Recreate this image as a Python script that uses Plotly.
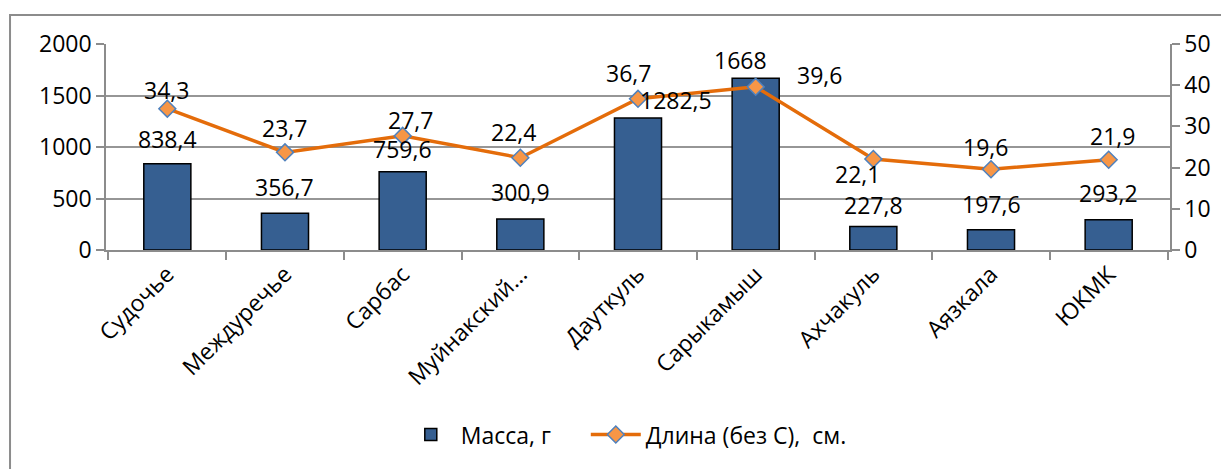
import plotly.graph_objects as go

categories = ["Судочье", "Междуречье", "Сарбас", "Муйнакский...", "Дауткуль",
              "Сарыкамыш", "Ахчакуль", "Аязкала", "ЮКМК"]
mass_values = [838.4, 356.7, 759.6, 300.9, 1282.5, 1668, 227.8, 197.6, 293.2]
length_values = [34.3, 23.7, 27.7, 22.4, 36.7, 39.6, 22.1, 19.6, 21.9]
mass_labels = ["838,4", "356,7", "759,6", "300,9", "1282,5", "1668", "227,8", "197,6", "293,2"]
length_labels = ["34,3", "23,7", "27,7", "22,4", "36,7", "39,6", "22,1", "19,6", "21,9"]
left_ticks = [0, 500, 1000, 1500, 2000]
right_ticks = [0, 10, 20, 30, 40, 50]

# label offsets (pixels) relative to each mark
mass_label_dx = [0, 0, 0, 0, 38, -15, 0, 0, 0]
mass_label_dy = [25, 26, 23, 27, 18, 18, 22, 26, 27]
len_label_dx = [-1, 0, 8, -7, -10, 64, -16, -6, 4]
len_label_dy = [19, 24, 16, 26, 26, 12, -15, 22, 24]

FONT = "Open Sans"
FS = 23

fig = go.Figure()
fig.add_trace(go.Bar(
    x=categories, y=mass_values, name="Масса, г\u00a0\u00a0\u00a0\u00a0\u00a0", width=0.4,
    marker=dict(color="#365F91", line=dict(color="#000000", width=1.5)),
    yaxis="y",
))
fig.add_trace(go.Scatter(
    x=categories, y=length_values, name="Длина (без С),  см.", mode="lines+markers",
    line=dict(color="#E46C0A", width=3.5),
    marker=dict(symbol="diamond", size=13, color="#F79646", line=dict(color="#4F81BD", width=1.5)),
    yaxis="y2",
))

annotations = []
for c, v, t, dx, dy in zip(categories, mass_values, mass_labels, mass_label_dx, mass_label_dy):
    annotations.append(dict(x=c, y=v, xref="x", yref="y", text=t, showarrow=False,
                            xshift=dx, yshift=dy, font=dict(family=FONT, size=FS, color="black")))
for c, v, t, dx, dy in zip(categories, length_values, length_labels, len_label_dx, len_label_dy):
    annotations.append(dict(x=c, y=v, xref="x", yref="y2", text=t, showarrow=False,
                            xshift=dx, yshift=dy, font=dict(family=FONT, size=FS, color="black")))

axis_common = dict(showline=True, linecolor="#8c8c8c", linewidth=1.5, ticks="outside",
                   ticklen=8, tickcolor="#8c8c8c", tickwidth=1.5, automargin=False,
                   tickfont=dict(family=FONT, size=FS, color="black"))

fig.update_layout(
    width=1221, height=461,
    margin=dict(l=98, r=59, t=36, b=219, autoexpand=False),
    paper_bgcolor="white", plot_bgcolor="white",
    font=dict(family=FONT, size=FS, color="black"),
    showlegend=True,
    legend=dict(orientation="h", x=0.489, xanchor="center", y=-0.896, yanchor="middle",
                font=dict(family=FONT, size=FS), itemwidth=50, tracegroupgap=0),
    xaxis=dict(type="category", tickson="boundaries", tickangle=-45, showgrid=False,
               **axis_common),
    yaxis=dict(range=[0, 2000], tickvals=left_ticks, showgrid=True, gridcolor="#969696",
               gridwidth=1.5, zeroline=False, **axis_common),
    yaxis2=dict(range=[0, 50], tickvals=right_ticks, overlaying="y", side="right",
                showgrid=False, zeroline=False, **axis_common),
    annotations=annotations,
    shapes=[dict(type="rect", xref="paper", yref="paper",
                 x0=-0.0902, x1=1.061, y0=-1.1, y1=1.1408,
                 line=dict(color="#8c8c8c", width=2), layer="below")],
)

fig.write_html("out.html")
